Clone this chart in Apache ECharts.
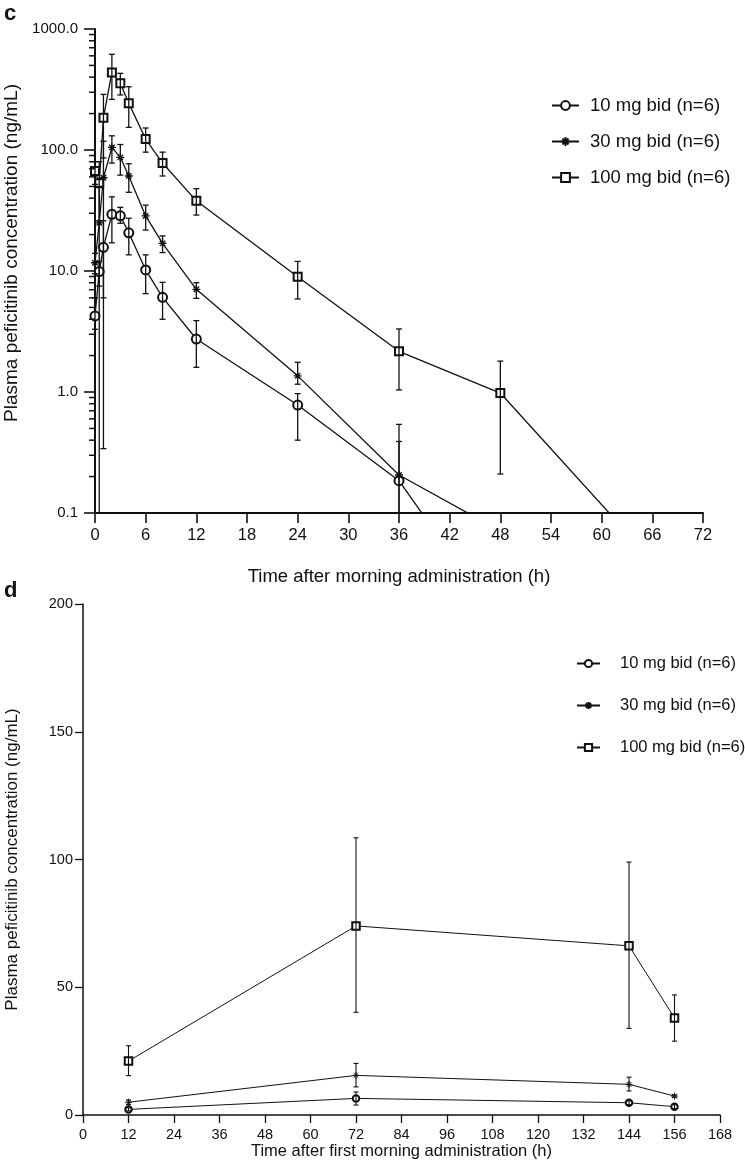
<!DOCTYPE html>
<html><head><meta charset="utf-8">
<script src="https://cdn.jsdelivr.net/npm/echarts@6/dist/echarts.min.js"></script>
<style>html,body{margin:0;padding:0;background:#fff}#chart{width:745px;height:1171px}</style>
</head><body><div id="chart"></div>
<script>
// ---------- data: panel c (log scale, time after morning administration) ----------
const seriesNames = ['10 mg bid (n=6)', '30 mg bid (n=6)', '100 mg bid (n=6)'];
const cTime10 = [0, 0.5, 1, 2, 3, 4, 6, 8, 12, 24, 36, 48];
const cMean10 = [4.25, 9.9, 15.7, 29.4, 28.6, 20.7, 10.2, 6.06, 2.74, 0.78, 0.185, 0.012];
const cHigh10 = [6.0, 12.0, 26.0, 41.0, 33.6, 27.3, 13.6, 8.06, 3.89, 0.97, 0.54, null];
const cLow10  = [3.3, 7.5, 6.0, 17.1, 24.8, 13.6, 6.5, 3.99, 1.6, 0.40, 0, null];

const cTime30 = [0, 0.5, 1, 2, 3, 4, 6, 8, 12, 24, 36, 48];
const cMean30 = [11.7, 25, 59, 105, 87, 61, 28.5, 16.9, 7.06, 1.36, 0.206, 0.071];
const cHigh30 = [14.0, 50, 118, 131, 111, 77, 35, 19.5, 8.0, 1.76, 0.39, null];
const cLow30  = [9.5, 0, 0.34, 78, 62, 44.7, 21.8, 14.2, 5.94, 1.16, 0, null];

const cTime100 = [0, 0.5, 1, 2, 3, 4, 6, 8, 12, 24, 36, 48, 72];
const cMean100 = [67, 53, 185, 438, 356, 243, 123, 78, 38, 8.97, 2.17, 0.98, 0.014];
const cHigh100 = [80, 80, 288, 618, 430, 333, 152, 96, 47.9, 12.0, 3.32, 1.80, null];
const cLow100  = [52, 26, 86, 262, 285, 154, 96, 61, 29, 5.87, 1.04, 0.21, null];

// ---------- data: panel d (linear scale, time after first morning administration) ----------
const dTime = [12, 72, 144, 156];
const dMean10 = [2.2, 6.5, 4.8, 3.25];
const dHigh10 = [2.8, 9.0, 5.5, 4.0];
const dLow10  = [1.6, 3.9, 4.1, 2.5];
const dMean30 = [5.0, 15.5, 12.0, 7.4];
const dHigh30 = [5.9, 20.2, 14.8, 7.9];
const dLow30  = [4.1, 11.0, 9.4, 6.9];
const dMean100 = [21.1, 74.0, 66.2, 38.0];
const dHigh100 = [27.1, 108.5, 99.0, 47.0];
const dLow100  = [15.4, 40.2, 33.9, 28.9];

// ---------- helpers ----------
const INK = '#111';
const STAR = 'path://M0,5L10,5M5,0L5,10M1.6,1.6L8.4,8.4M8.4,1.6L1.6,8.4';
const symbols = ['emptyCircle', STAR, 'emptyRect'];
const FONT = "'Liberation Sans', Arial, sans-serif";
const NARROW = "'Liberation Sans Narrow', 'Arial Narrow', 'Liberation Sans', Arial, sans-serif";

function pairs(t, v) { return t.map((x, i) => [x, v[i]]); }
function errData(t, lo, hi) {
  const out = [];
  t.forEach((x, i) => { if (hi[i] != null) out.push([x, lo[i], hi[i]]); });
  return out;
}
function errSeries(name, xi, yi, data, floor, cap, lw) {
  return {
    type: 'custom', name: name, xAxisIndex: xi, yAxisIndex: yi, z: 4, silent: true, clip: false,
    encode: { x: 0, y: 2 }, data: data,
    renderItem: function (params, api) {
      const x = api.value(0), lo = api.value(1), hi = api.value(2);
      const clipped = !(lo > floor);
      const top = api.coord([x, hi]);
      const bot = api.coord([x, clipped ? floor : lo]);
      const st = { stroke: INK, lineWidth: lw };
      const ch = [
        { type: 'line', shape: { x1: top[0], y1: top[1], x2: bot[0], y2: bot[1] }, style: st },
        { type: 'line', shape: { x1: top[0] - cap, y1: top[1], x2: top[0] + cap, y2: top[1] }, style: st }
      ];
      if (!clipped) ch.push({ type: 'line', shape: { x1: bot[0] - cap, y1: bot[1], x2: bot[0] + cap, y2: bot[1] }, style: st });
      return { type: 'group', children: ch };
    }
  };
}
function lineSeries(name, xi, yi, data, sym, size, lw, bw) {
  return {
    type: 'line', name: name, xAxisIndex: xi, yAxisIndex: yi, data: data, z: 3,
    symbol: sym, symbolSize: size, showAllSymbol: true, clip: true,
    lineStyle: { color: INK, width: lw },
    itemStyle: { color: INK, borderColor: INK, borderWidth: bw },
    emphasis: { disabled: true }
  };
}

// minor ticks for the log axis (2..9 within each decade)
const minorTicks = [];
for (let k = -1; k < 3; k++) for (let m = 2; m <= 9; m++) minorTicks.push(m * Math.pow(10, k));

const option = {
  animation: false,
  backgroundColor: '#fff',
  grid: [
    { left: 95, top: 29, width: 608, height: 484, containLabel: false, outerBoundsMode: 'none' },
    { left: 83, top: 604, width: 637, height: 511, containLabel: false, outerBoundsMode: 'none' }
  ],
  xAxis: [
    {
      gridIndex: 0, type: 'value', min: 0, max: 72, interval: 6,
      name: 'Time after morning administration (h)', nameLocation: 'middle', nameGap: 54,
      nameTextStyle: { fontFamily: FONT, fontSize: 18.5, color: INK },
      axisLine: { onZero: false, lineStyle: { color: INK, width: 2 } },
      axisTick: { length: 10, lineStyle: { color: INK, width: 1.6 } },
      axisLabel: { margin: 14, fontFamily: NARROW, fontSize: 16.5, color: INK },
      splitLine: { show: false }
    },
    {
      gridIndex: 1, type: 'value', min: 0, max: 168, interval: 12,
      name: 'Time after first morning administration (h)', nameLocation: 'middle', nameGap: 28,
      nameTextStyle: { fontFamily: FONT, fontSize: 16.5, color: INK },
      axisLine: { onZero: false, lineStyle: { color: INK, width: 1.5 } },
      axisTick: { length: 8, lineStyle: { color: INK, width: 1.3 } },
      axisLabel: { margin: 12, fontFamily: FONT, fontSize: 14.5, color: INK },
      splitLine: { show: false }
    }
  ],
  yAxis: [
    {
      gridIndex: 0, type: 'log', logBase: 10, min: 0.1, max: 1000,
      name: 'Plasma peficitinib concentration (ng/mL)', nameLocation: 'middle', nameGap: 64,
      nameTextStyle: { fontFamily: FONT, fontSize: 19, color: INK, padding: [0, 0, 0, 36] },
      axisLine: { onZero: false, lineStyle: { color: INK, width: 2 } },
      axisTick: { length: 11, lineStyle: { color: INK, width: 1.6 } },
      axisLabel: { margin: 17, fontFamily: NARROW, fontSize: 15, color: INK,
        formatter: function (v) { return Number(v).toFixed(1); } },
      splitLine: { show: false }
    },
    {
      gridIndex: 1, type: 'value', min: 0, max: 200, interval: 50,
      name: 'Plasma peficitinib concentration (ng/mL)', nameLocation: 'middle', nameGap: 62,
      nameTextStyle: { fontFamily: FONT, fontSize: 17, color: INK },
      axisLine: { onZero: false, lineStyle: { color: INK, width: 1.5 } },
      axisTick: { length: 8, lineStyle: { color: INK, width: 1.3 } },
      axisLabel: { margin: 10, fontFamily: FONT, fontSize: 14.5, color: INK },
      splitLine: { show: false }
    }
  ],
  legend: [
    {
      data: seriesNames, orient: 'vertical', left: 546, top: 91,
      itemWidth: 27, itemHeight: 11, itemGap: 17, selectedMode: false,
      textStyle: { fontFamily: FONT, fontSize: 18.5, color: INK, padding: [0, 0, 0, 6] }
    },
    {
      data: seriesNames, orient: 'vertical', left: 571, top: 650,
      itemWidth: 23, itemHeight: 9, itemGap: 25, selectedMode: false,
      textStyle: { fontFamily: FONT, fontSize: 16.5, color: INK, padding: [0, 0, 0, 15] }
    }
  ],
  graphic: [
    { type: 'text', left: 4, top: 3, style: { text: 'c', font: "bold 22px 'Liberation Sans', Arial, sans-serif", fill: INK } },
    { type: 'text', left: 4, top: 580, style: { text: 'd', font: "bold 22px 'Liberation Sans', Arial, sans-serif", fill: INK } }
  ],
  series: [
    // panel c lines
    lineSeries(seriesNames[0], 0, 0, pairs(cTime10, cMean10), symbols[0], 9, 1.3, 1.3),
    lineSeries(seriesNames[1], 0, 0, pairs(cTime30, cMean30), symbols[1], 8, 1.3, 1.3),
    lineSeries(seriesNames[2], 0, 0, pairs(cTime100, cMean100), symbols[2], 8, 1.3, 1.3),
    errSeries('e10c', 0, 0, errData(cTime10, cLow10, cHigh10), 0.1, 3, 1.3),
    errSeries('e30c', 0, 0, errData(cTime30, cLow30, cHigh30), 0.1, 3, 1.3),
    errSeries('e100c', 0, 0, errData(cTime100, cLow100, cHigh100), 0.1, 3, 1.3),
    {
      type: 'custom', name: 'minorTicks', xAxisIndex: 0, yAxisIndex: 0, silent: true, clip: false, z: 5,
      encode: { x: 0, y: 1 }, data: minorTicks.map(v => [0, v]),
      renderItem: function (params, api) {
        const p = api.coord([0, api.value(1)]);
        return { type: 'line', shape: { x1: p[0] - 6, y1: p[1], x2: p[0], y2: p[1] }, style: { stroke: INK, lineWidth: 1.5 } };
      }
    },
    // panel d lines
    lineSeries(seriesNames[0], 1, 1, pairs(dTime, dMean10), symbols[0], 6.5, 1, 1),
    lineSeries(seriesNames[1], 1, 1, pairs(dTime, dMean30), symbols[1], 7, 1, 1),
    lineSeries(seriesNames[2], 1, 1, pairs(dTime, dMean100), symbols[2], 7.5, 1, 1),
    errSeries('e10d', 1, 1, errData(dTime, dLow10, dHigh10), 0, 2.5, 1.1),
    errSeries('e30d', 1, 1, errData(dTime, dLow30, dHigh30), 0, 2.5, 1.1),
    errSeries('e100d', 1, 1, errData(dTime, dLow100, dHigh100), 0, 2.5, 1.1)
  ]
};
const chart = echarts.init(document.getElementById('chart'));
chart.setOption(option);
</script>
</body></html>
